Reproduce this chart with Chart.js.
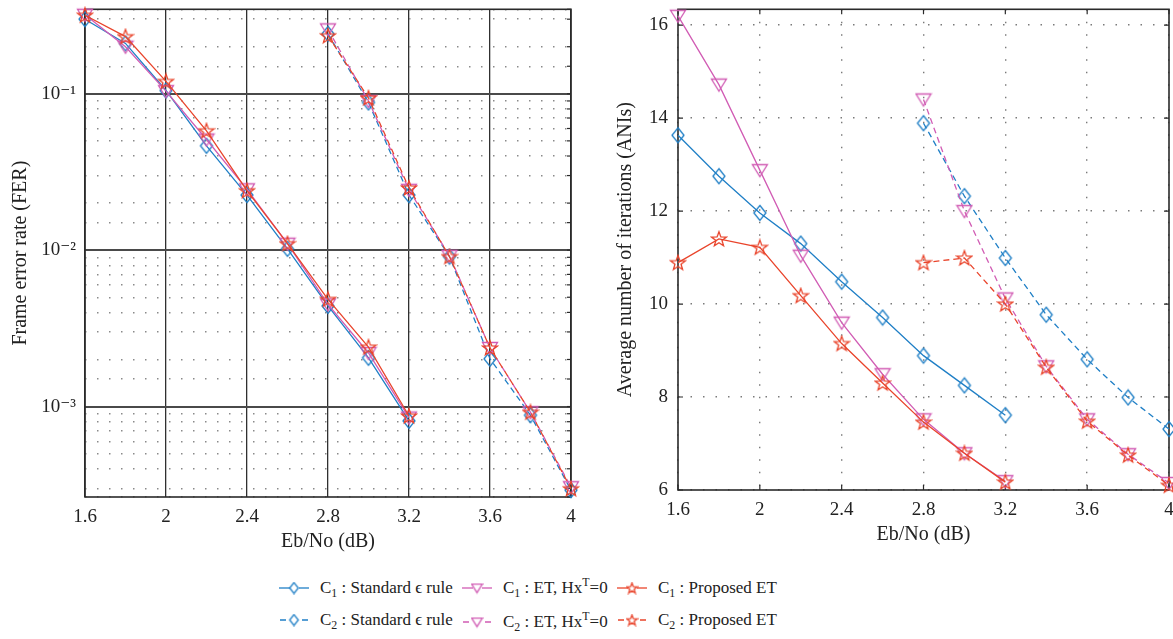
<!DOCTYPE html>
<html>
<head>
<meta charset="utf-8">
<script src="https://cdn.jsdelivr.net/npm/chart.js@4.4.1/dist/chart.umd.min.js"></script>
<style>
  html, body { margin: 0; padding: 0; background: #fff; overflow: hidden; }
  body { width: 1173px; height: 639px; position: relative; font-family: 'Liberation Serif', 'DejaVu Serif', serif; color: #222; }
  canvas.plot { position: absolute; top: 0; }
  .item { position: absolute; display: flex; align-items: center; font-size: 17px; white-space: nowrap; }
  .item canvas { margin-right: 10px; }
  .item sub { font-size: 70%; vertical-align: -0.35em; line-height: 0; }
  .item sup { font-size: 70%; vertical-align: 0.55em; line-height: 0; }
</style>
</head>
<body>
<canvas id="ferChart" class="plot" width="600" height="575" style="left:0"></canvas>
<canvas id="aniChart" class="plot" width="600" height="575" style="left:600px"></canvas>

<div class="item" style="left:278px; top:578px"><canvas id="lg0" width="32" height="20"></canvas><span>C<sub>1</sub>&nbsp;: Standard ϵ rule</span></div>
<div class="item" style="left:461px; top:578px"><canvas id="lg2" width="32" height="20"></canvas><span>C<sub>1</sub>&nbsp;: ET, Hx<sup>T</sup>=0</span></div>
<div class="item" style="left:616px; top:578px"><canvas id="lg4" width="32" height="20"></canvas><span>C<sub>1</sub>&nbsp;: Proposed ET</span></div>
<div class="item" style="left:278px; top:610px"><canvas id="lg1" width="32" height="20"></canvas><span>C<sub>2</sub>&nbsp;: Standard ϵ rule</span></div>
<div class="item" style="left:461px; top:612px"><canvas id="lg3" width="32" height="20"></canvas><span>C<sub>2</sub>&nbsp;: ET, Hx<sup>T</sup>=0</span></div>
<div class="item" style="left:616px; top:610px"><canvas id="lg5" width="32" height="20"></canvas><span>C<sub>2</sub>&nbsp;: Proposed ET</span></div>

<script>
// Eb/No points (dB)
const snrC1 = [1.6, 1.8, 2.0, 2.2, 2.4, 2.6, 2.8, 3.0, 3.2];
const snrC2 = [2.8, 3.0, 3.2, 3.4, 3.6, 3.8, 4.0];

// frame error rate
const ferC1Std  = [0.30, 0.21, 0.105, 0.0465, 0.0225, 0.0102, 0.0044, 0.00205, 0.00081];
const ferC1Et   = [0.32, 0.20, 0.104, 0.051, 0.0245, 0.011, 0.0045, 0.0022, 0.00085];
const ferC1Prop = [0.318, 0.232, 0.12, 0.058, 0.024, 0.011, 0.00485, 0.0024, 0.00087];
const ferC2Std  = [0.242, 0.088, 0.0225, 0.0091, 0.00202, 0.00088, 0.000292];
const ferC2Et   = [0.258, 0.09, 0.0243, 0.0092, 0.00237, 0.00092, 0.000305];
const ferC2Prop = [0.235, 0.094, 0.025, 0.0091, 0.00237, 0.00092, 0.000298];

// average number of iterations
const aniC1Std  = [13.63, 12.75, 11.96, 11.3, 10.48, 9.71, 8.89, 8.25, 7.61];
const aniC1Et   = [16.2, 14.72, 12.88, 11.04, 9.6, 8.49, 7.52, 6.79, 6.19];
const aniC1Prop = [10.89, 11.4, 11.22, 10.18, 9.15, 8.3, 7.46, 6.79, 6.17];
const aniC2Std  = [13.89, 12.32, 10.99, 9.77, 8.81, 7.99, 7.31];
const aniC2Et   = [14.4, 12.0, 10.12, 8.66, 7.52, 6.77, 6.15];
const aniC2Prop = [10.89, 10.99, 10.0, 8.64, 7.48, 6.75, 6.1];

const seriesLabels = ['C1 : Standard ϵ rule', 'C2 : Standard ϵ rule', 'C1 : ET, HxT=0', 'C2 : ET, HxT=0', 'C1 : Proposed ET', 'C2 : Proposed ET'];

const BLUE = '#1f7fc6';
const MAGENTA = '#d15cb4';
const RED = '#e9442b';
const FONT = "'Liberation Serif', 'DejaVu Serif', serif";

function makeMarker(kind, color, s) {
  const c = document.createElement('canvas');
  const w = Math.ceil(18 * s), h = Math.ceil(18 * s);
  c.width = w; c.height = h;
  const g = c.getContext('2d');
  const cx = w / 2, cy = h / 2;
  g.strokeStyle = color;
  g.lineWidth = 1.3;
  g.beginPath();
  if (kind === 'diamond') {
    g.moveTo(cx, cy - 7.5 * s);
    g.lineTo(cx + 6 * s, cy);
    g.lineTo(cx, cy + 7.5 * s);
    g.lineTo(cx - 6 * s, cy);
  } else if (kind === 'tri') {
    g.moveTo(cx - 7.5 * s, cy - 5.5 * s);
    g.lineTo(cx + 7.5 * s, cy - 5.5 * s);
    g.lineTo(cx, cy + 6.5 * s);
  } else {
    for (let i = 0; i < 10; i++) {
      const r = (i % 2 === 0 ? 7.8 : 3.2) * s;
      const a = -Math.PI / 2 + i * Math.PI / 5;
      const px = cx + r * Math.cos(a), py = cy + 0.5 + r * Math.sin(a);
      if (i === 0) g.moveTo(px, py); else g.lineTo(px, py);
    }
  }
  g.closePath();
  g.stroke();
  return c;
}

const markers = {
  blue: makeMarker('diamond', BLUE, 1),
  magenta: makeMarker('tri', MAGENTA, 1),
  red: makeMarker('star', RED, 1)
};

function series(label, xs, ys, color, marker, dashed, order) {
  return {
    label,
    data: xs.map((x, i) => ({ x, y: ys[i] })),
    borderColor: color,
    borderWidth: 1.3,
    borderDash: dashed ? [6, 4] : [],
    pointStyle: marker,
    pointRadius: 8,
    pointHoverRadius: 8,
    fill: false,
    tension: 0,
    clip: false,
    order
  };
}

function buildSets(c1s, c2s, c1e, c2e, c1p, c2p) {
  return [
    series(seriesLabels[0], snrC1, c1s, BLUE, markers.blue, false, 3),
    series(seriesLabels[1], snrC2, c2s, BLUE, markers.blue, true, 3),
    series(seriesLabels[2], snrC1, c1e, MAGENTA, markers.magenta, false, 2),
    series(seriesLabels[3], snrC2, c2e, MAGENTA, markers.magenta, true, 2),
    series(seriesLabels[4], snrC1, c1p, RED, markers.red, false, 1),
    series(seriesLabels[5], snrC2, c2p, RED, markers.red, true, 1)
  ];
}

const supMap = { '-': '⁻', '0': '⁰', '1': '¹', '2': '²', '3': '³', '4': '⁴', '5': '⁵', '6': '⁶', '7': '⁷', '8': '⁸', '9': '⁹' };
function isDecade(v) {
  const e = Math.log10(v);
  return Math.abs(e - Math.round(e)) < 1e-6;
}

// box round the plot area and small inward ticks
const framePlugin = {
  id: 'frame',
  beforeDatasetsDraw(chart, args, opts) {
    const { ctx, chartArea: a, scales } = chart;
    ctx.save();
    ctx.strokeStyle = '#2a2a2a';
    ctx.lineWidth = 1.2;
    ctx.setLineDash([]);
    const len = opts.tick || 5;
    scales.y.ticks.forEach(t => {
      const p = scales.y.getPixelForValue(t.value);
      ctx.beginPath();
      ctx.moveTo(a.right, p); ctx.lineTo(a.right - len, p);
      if (opts.both) { ctx.moveTo(a.left, p); ctx.lineTo(a.left + len, p); }
      ctx.stroke();
    });
    if (opts.both) {
      scales.x.ticks.forEach(t => {
        const p = scales.x.getPixelForValue(t.value);
        ctx.beginPath();
        ctx.moveTo(p, a.top); ctx.lineTo(p, a.top + len);
        ctx.moveTo(p, a.bottom); ctx.lineTo(p, a.bottom - len);
        ctx.stroke();
      });
    }
    ctx.lineWidth = 1.6;
    ctx.strokeRect(a.left, a.top, a.right - a.left, a.bottom - a.top);
    ctx.restore();
  }
};

const xTitle = { display: true, text: 'Eb/No (dB)', color: '#222', font: { family: FONT, size: 20 }, padding: { top: 0, bottom: 18 } };
const tickFont = { family: FONT, size: 19 };

function xScale() {
  return {
    type: 'linear',
    min: 1.6,
    max: 4,
    afterFit: s => { s.height = 75; s.paddingLeft = 0; s.paddingRight = 0; },
    ticks: { stepSize: 0.4, color: '#222', font: tickFont, padding: 9, maxRotation: 0, autoSkip: false,
      callback: v => String(Math.round(v * 10) / 10) },
    title: xTitle
  };
}

function yFit(w) {
  return s => { s.width = w; s.paddingTop = 0; s.paddingBottom = 0; };
}

Chart.defaults.font.family = FONT;

new Chart(document.getElementById('ferChart'), {
  type: 'line',
  data: { datasets: buildSets(ferC1Std, ferC2Std, ferC1Et, ferC2Et, ferC1Prop, ferC2Prop) },
  options: {
    responsive: false,
    animation: false,
    layout: { padding: { left: 0, right: 29, top: 6, bottom: 3 } },
    plugins: { legend: { display: false }, tooltip: { enabled: false }, frame: { tick: 4 } },
    scales: {
      x: Object.assign(xScale(), {
        grid: { color: '#303030', lineWidth: 1.3, drawTicks: false },
        border: { display: false }
      }),
      y: {
        type: 'logarithmic',
        min: 2.64e-4,
        max: 0.347,
        afterFit: yFit(85),
        grid: {
          drawTicks: false,
          color: c => (c.tick && isDecade(c.tick.value)) ? '#4a4a4a' : '#8a8a8a',
          lineWidth: c => (c.tick && isDecade(c.tick.value)) ? 2 : 1.4
        },
        border: {
          display: false,
          dash: c => (!c.tick || isDecade(c.tick.value)) ? [] : [1.5, 10.5]
        },
        ticks: {
          autoSkip: false,
          color: '#222',
          font: tickFont,
          padding: 9,
          callback: v => isDecade(v) ? '10' + String(Math.round(Math.log10(v))).split('').map(ch => supMap[ch]).join('') : ''
        },
        title: { display: true, text: 'Frame error rate (FER)', color: '#222', font: { family: FONT, size: 20 }, padding: { top: 9, bottom: 0 } }
      }
    }
  },
  plugins: [framePlugin]
});

new Chart(document.getElementById('aniChart'), {
  type: 'line',
  data: { datasets: buildSets(aniC1Std, aniC2Std, aniC1Et, aniC2Et, aniC1Prop, aniC2Prop) },
  options: {
    responsive: false,
    animation: false,
    layout: { padding: { left: 0, right: 31, top: 8, bottom: 10 } },
    plugins: { legend: { display: false }, tooltip: { enabled: false }, frame: { tick: 5, both: true } },
    scales: {
      x: Object.assign(xScale(), {
        grid: { color: '#7a7a7a', lineWidth: 1.4, drawTicks: false },
        border: { display: false, dash: c => c.tick ? [1.5, 11] : [] }
      }),
      y: {
        type: 'linear',
        min: 6,
        max: 16.34,
        afterFit: yFit(78),
        grid: { color: '#7a7a7a', lineWidth: 1.4, drawTicks: false },
        border: { display: false, dash: c => c.tick ? [1.5, 11] : [] },
        ticks: { stepSize: 2, includeBounds: false, color: '#222', font: tickFont, padding: 10 },
        title: { display: true, text: 'Average number of iterations (ANIs)', color: '#222', font: { family: FONT, size: 20 }, padding: { top: 14, bottom: 0 } }
      }
    }
  },
  plugins: [framePlugin]
});

// legend icons
const legendStyle = [
  [BLUE, 'diamond', false], [BLUE, 'diamond', true],
  [MAGENTA, 'tri', false], [MAGENTA, 'tri', true],
  [RED, 'star', false], [RED, 'star', true]
];
legendStyle.forEach(([color, kind, dashed], i) => {
  const c = document.getElementById('lg' + i);
  const g = c.getContext('2d');
  g.strokeStyle = color;
  g.lineWidth = 1.3;
  g.beginPath();
  if (dashed) {
    g.moveTo(2, 10); g.lineTo(8, 10);
    g.moveTo(24, 10); g.lineTo(30, 10);
  } else {
    g.moveTo(1, 10); g.lineTo(31, 10);
  }
  g.stroke();
  const m = makeMarker(kind, color, 0.72);
  g.clearRect(16 - m.width / 2 + 2, 10 - m.height / 2 + 2, m.width - 4, m.height - 4);
  g.drawImage(m, 16 - m.width / 2, 10 - m.height / 2);
});
</script>
</body>
</html>
